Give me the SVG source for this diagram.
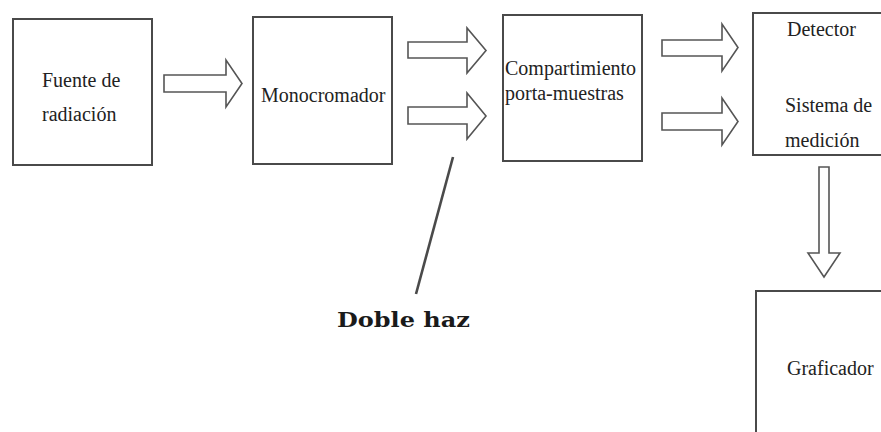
<svg xmlns="http://www.w3.org/2000/svg" width="881" height="432" viewBox="0 0 881 432">
  <style>
    .box { fill: #ffffff; stroke: #4a4a4a; stroke-width: 2; }
    .flow { fill: #ffffff; stroke: #555555; stroke-width: 1.6; stroke-linejoin: miter; }
    .lbl { font-family: "Liberation Serif", "Times New Roman", serif; font-size: 20px; fill: #222222; }
    .note { font-family: "DejaVu Serif", "Liberation Serif", serif; font-size: 21px; font-weight: bold; fill: #1a1a1a; }
  </style>
  <rect width="881" height="432" fill="#ffffff"/>

  <g id="fuente">
    <rect class="box" x="13" y="19" width="139" height="146"/>
    <text class="lbl" x="42" y="87">Fuente de</text>
    <text class="lbl" x="42" y="121">radiación</text>
  </g>

  <g id="monocromador">
    <rect class="box" x="253" y="17" width="139" height="147"/>
    <text class="lbl" x="261" y="102">Monocromador</text>
  </g>

  <g id="compartimiento">
    <rect class="box" x="503" y="15" width="139" height="146"/>
    <text class="lbl" x="505" y="75">Compartimiento</text>
    <text class="lbl" x="505" y="100">porta-muestras</text>
  </g>

  <g id="detector">
    <rect class="box" x="753" y="13" width="140" height="142"/>
    <text class="lbl" x="787" y="36">Detector</text>
    <text class="lbl" x="785" y="112">Sistema de</text>
    <text class="lbl" x="785" y="147">medición</text>
  </g>

  <g id="graficador">
    <rect class="box" x="756" y="291" width="140" height="160"/>
    <text class="lbl" x="787" y="375">Graficador</text>
  </g>

  <g id="connectors">
    <polygon class="flow" points="164,75 226,75 226,60 242,83.5 226,107 226,92 164,92"/>
    <polygon class="flow" points="408,42 467,42 467,28 486,50.5 467,73 467,58 408,58"/>
    <polygon class="flow" points="408,107 467,107 467,93 486,116 467,139 467,124 408,124"/>
    <polygon class="flow" points="662,40 722,40 722,24 738,47.5 722,71 722,56 662,56"/>
    <polygon class="flow" points="662,113 722,113 722,98 738,121.5 722,145 722,130 662,130"/>
    <polygon class="flow" points="819,167 829,167 829,253 840,253 824,277 808,253 819,253"/>
    <line x1="453" y1="157" x2="416" y2="294" stroke="#4a4a4a" stroke-width="2.6"/>
  </g>

  <g id="doble-haz">
    <text class="note" x="337" y="327" textLength="133" lengthAdjust="spacingAndGlyphs">Doble haz</text>
  </g>
</svg>
